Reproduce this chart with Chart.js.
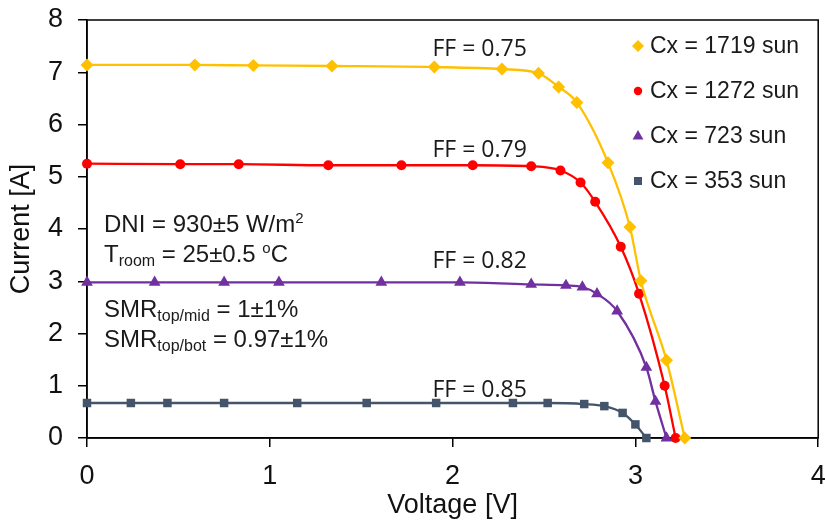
<!DOCTYPE html>
<html>
<head>
<meta charset="utf-8">
<script src="https://cdn.jsdelivr.net/npm/chart.js@4.4.0/dist/chart.umd.min.js"></script>
<style>
  html, body { margin: 0; padding: 0; background: #fff; }
  canvas { display: block; }
</style>
</head>
<body>
<canvas id="chartIV" width="825" height="524"></canvas>
<script>
// I-V curves, values (voltage in V, current in A)
const v1719 = [0, 0.59, 0.91, 1.34, 1.90, 2.27, 2.47, 2.58, 2.68, 2.85, 2.97, 3.03, 3.17, 3.27];
const i1719 = [7.14, 7.14, 7.13, 7.12, 7.10, 7.06, 6.98, 6.72, 6.42, 5.27, 4.04, 3.01, 1.49, 0];

const v1272 = [0, 0.51, 0.83, 1.32, 1.72, 2.11, 2.43, 2.59, 2.70, 2.78, 2.92, 3.02, 3.16, 3.22];
const i1272 = [5.25, 5.24, 5.24, 5.22, 5.22, 5.22, 5.20, 5.12, 4.89, 4.52, 3.66, 2.76, 1.00, 0];

const v723 = [0, 0.37, 0.75, 1.05, 1.61, 2.04, 2.43, 2.62, 2.71, 2.79, 2.90, 3.06, 3.11, 3.17];
const i723 = [2.98, 2.98, 2.98, 2.98, 2.98, 2.98, 2.94, 2.92, 2.89, 2.76, 2.43, 1.35, 0.70, 0];

const v353 = [0, 0.24, 0.44, 0.75, 1.15, 1.53, 1.91, 2.33, 2.52, 2.72, 2.83, 2.93, 3.00, 3.06];
const i353 = [0.67, 0.67, 0.67, 0.67, 0.67, 0.67, 0.67, 0.67, 0.67, 0.65, 0.61, 0.48, 0.26, 0];

const serieNombres = ['Cx = 1719 sun', 'Cx = 1272 sun', 'Cx = 723 sun', 'Cx = 353 sun'];
const serieColores = ['#FFC000', '#FF0000', '#7030A0', '#44546A'];
const serieMarcas = ['rectRot', 'circle', 'triangle', 'rect'];

const xTicks = [0, 1, 2, 3, 4];
const yTicks = [0, 1, 2, 3, 4, 5, 6, 7, 8];

// FF labels: text, voltage, current (baseline)
const ffTextos = ['FF = 0.75', 'FF = 0.79', 'FF = 0.82', 'FF = 0.85'];
const ffV = [1.89, 1.89, 1.89, 1.89];
const ffI = [7.31, 5.37, 3.26, 0.79];

const FUENTE = '"Liberation Sans", Arial, sans-serif';

function puntos(vs, is) {
    return vs.map((v, k) => ({ x: v, y: is[k] }));
}

const radios = [6.5, 5, 6.8, 6];

const datasets = [[v1719, i1719], [v1272, i1272], [v723, i723], [v353, i353]].map((s, k) => ({
    label: serieNombres[k],
    data: puntos(s[0], s[1]),
    borderColor: serieColores[k],
    backgroundColor: serieColores[k],
    borderWidth: 2.3,
    pointStyle: serieMarcas[k],
    pointRadius: radios[k],
    pointBorderWidth: 0,
    pointHoverRadius: radios[k],
    cubicInterpolationMode: 'monotone',
    clip: false
}));

/**
 * Marco del área de trazado
 */
const marcoPlugin = {
    id: 'marco',
    beforeDatasetsDraw(chart) {
        const { ctx, chartArea: a } = chart;
        ctx.save();
        ctx.strokeStyle = '#000';
        ctx.lineWidth = 1.5;
        ctx.strokeRect(a.left, a.top, a.right - a.left, a.bottom - a.top);
        ctx.restore();
    }
};

// texto con subíndices / superíndices
function textoRico(ctx, x, y, partes) {
    let cx = x;
    partes.forEach(p => {
        let size = 24, dy = 0;
        if (p.s === 'sub') { size = 16; dy = 4; }
        if (p.s === 'sup') { size = 15; dy = -9; }
        ctx.font = size + 'px ' + FUENTE;
        ctx.fillText(p.t, cx, y + dy);
        cx += ctx.measureText(p.t).width;
    });
}

function marca(ctx, tipo, x, y, r) {
    ctx.beginPath();
    if (tipo === 'rectRot') {
        ctx.moveTo(x, y - r); ctx.lineTo(x + r, y); ctx.lineTo(x, y + r); ctx.lineTo(x - r, y);
    } else if (tipo === 'circle') {
        ctx.arc(x, y, r, 0, Math.PI * 2);
    } else if (tipo === 'triangle') {
        ctx.moveTo(x, y - r); ctx.lineTo(x + r * 0.9, y + r * 0.6); ctx.lineTo(x - r * 0.9, y + r * 0.6);
    } else {
        ctx.rect(x - r * 0.8, y - r * 0.8, r * 1.6, r * 1.6);
    }
    ctx.closePath();
    ctx.fill();
}

const textosPlugin = {
    id: 'textos',
    afterDatasetsDraw(chart) {
        const { ctx, scales } = chart;
        const sx = scales.x, sy = scales.y;
        ctx.save();
        ctx.fillStyle = '#1a1a1a';
        ctx.textBaseline = 'alphabetic';
        ctx.textAlign = 'left';

        // FF
        ctx.font = '23px "Open Sans", sans-serif';
        ffTextos.forEach((t, k) => {
            ctx.fillText(t, sx.getPixelForValue(ffV[k]), sy.getPixelForValue(ffI[k]));
        });

        // condiciones de medida
        const x0 = sx.getPixelForValue(0.093);
        textoRico(ctx, x0, sy.getPixelForValue(3.95), [{ t: 'DNI = 930±5 W/m' }, { t: '2', s: 'sup' }]);
        textoRico(ctx, x0, sy.getPixelForValue(3.37), [{ t: 'T' }, { t: 'room', s: 'sub' }, { t: ' = 25±0.5 ' }, { t: 'o', s: 'sup' }, { t: 'C' }]);
        textoRico(ctx, x0, sy.getPixelForValue(2.31), [{ t: 'SMR' }, { t: 'top/mid', s: 'sub' }, { t: ' = 1±1%' }]);
        textoRico(ctx, x0, sy.getPixelForValue(1.75), [{ t: 'SMR' }, { t: 'top/bot', s: 'sub' }, { t: ' = 0.97±1%' }]);

        // leyenda
        const lx = 638, ly = 46, paso = 45;
        const rl = [6, 4.2, 6, 5];
        serieNombres.forEach((n, k) => {
            const y = ly + k * paso;
            ctx.fillStyle = serieColores[k];
            marca(ctx, serieMarcas[k], lx, y, rl[k]);
            ctx.fillStyle = '#1a1a1a';
            ctx.font = '23px ' + FUENTE;
            ctx.textBaseline = 'middle';
            ctx.fillText(n, lx + 12, y + 1);
        });
        ctx.restore();
    }
};

const ctx = document.getElementById('chartIV').getContext('2d');

new Chart(ctx, {
    type: 'line',
    data: { datasets },
    options: {
        responsive: false,
        animation: false,
        layout: { padding: { top: 20, right: 5, left: 0, bottom: 0 } },
        plugins: {
            legend: { display: false },
            tooltip: { enabled: false }
        },
        scales: {
            x: {
                type: 'linear',
                min: 0, max: 4,
                afterBuildTicks: s => { s.ticks = xTicks.map(v => ({ value: v })); },
                afterFit: s => { s.height = 86; s.paddingLeft = 0; s.paddingRight = 0; },
                grid: { drawOnChartArea: false, drawTicks: true, tickLength: 9, color: '#000', lineWidth: 1.5 },
                border: { color: '#000', width: 1.5 },
                ticks: { color: '#111', font: { family: FUENTE, size: 27 }, padding: 13 },
                title: { display: true, text: 'Voltage [V]', color: '#111', font: { family: FUENTE, size: 27 }, padding: { top: 0, bottom: 2 } }
            },
            y: {
                type: 'linear',
                min: 0, max: 8,
                afterBuildTicks: s => { s.ticks = yTicks.map(v => ({ value: v })); },
                afterFit: s => { s.width = 87; s.paddingTop = 0; s.paddingBottom = 0; },
                grid: { drawOnChartArea: false, drawTicks: true, tickLength: 9, color: '#000', lineWidth: 1.5 },
                border: { color: '#000', width: 1.5 },
                ticks: { color: '#111', font: { family: FUENTE, size: 27 }, padding: 15 },
                title: { display: true, text: 'Current [A]', color: '#111', font: { family: FUENTE, size: 27 }, padding: { top: 5, bottom: 0 } }
            }
        }
    },
    plugins: [marcoPlugin, textosPlugin]
});
</script>
</body>
</html>
